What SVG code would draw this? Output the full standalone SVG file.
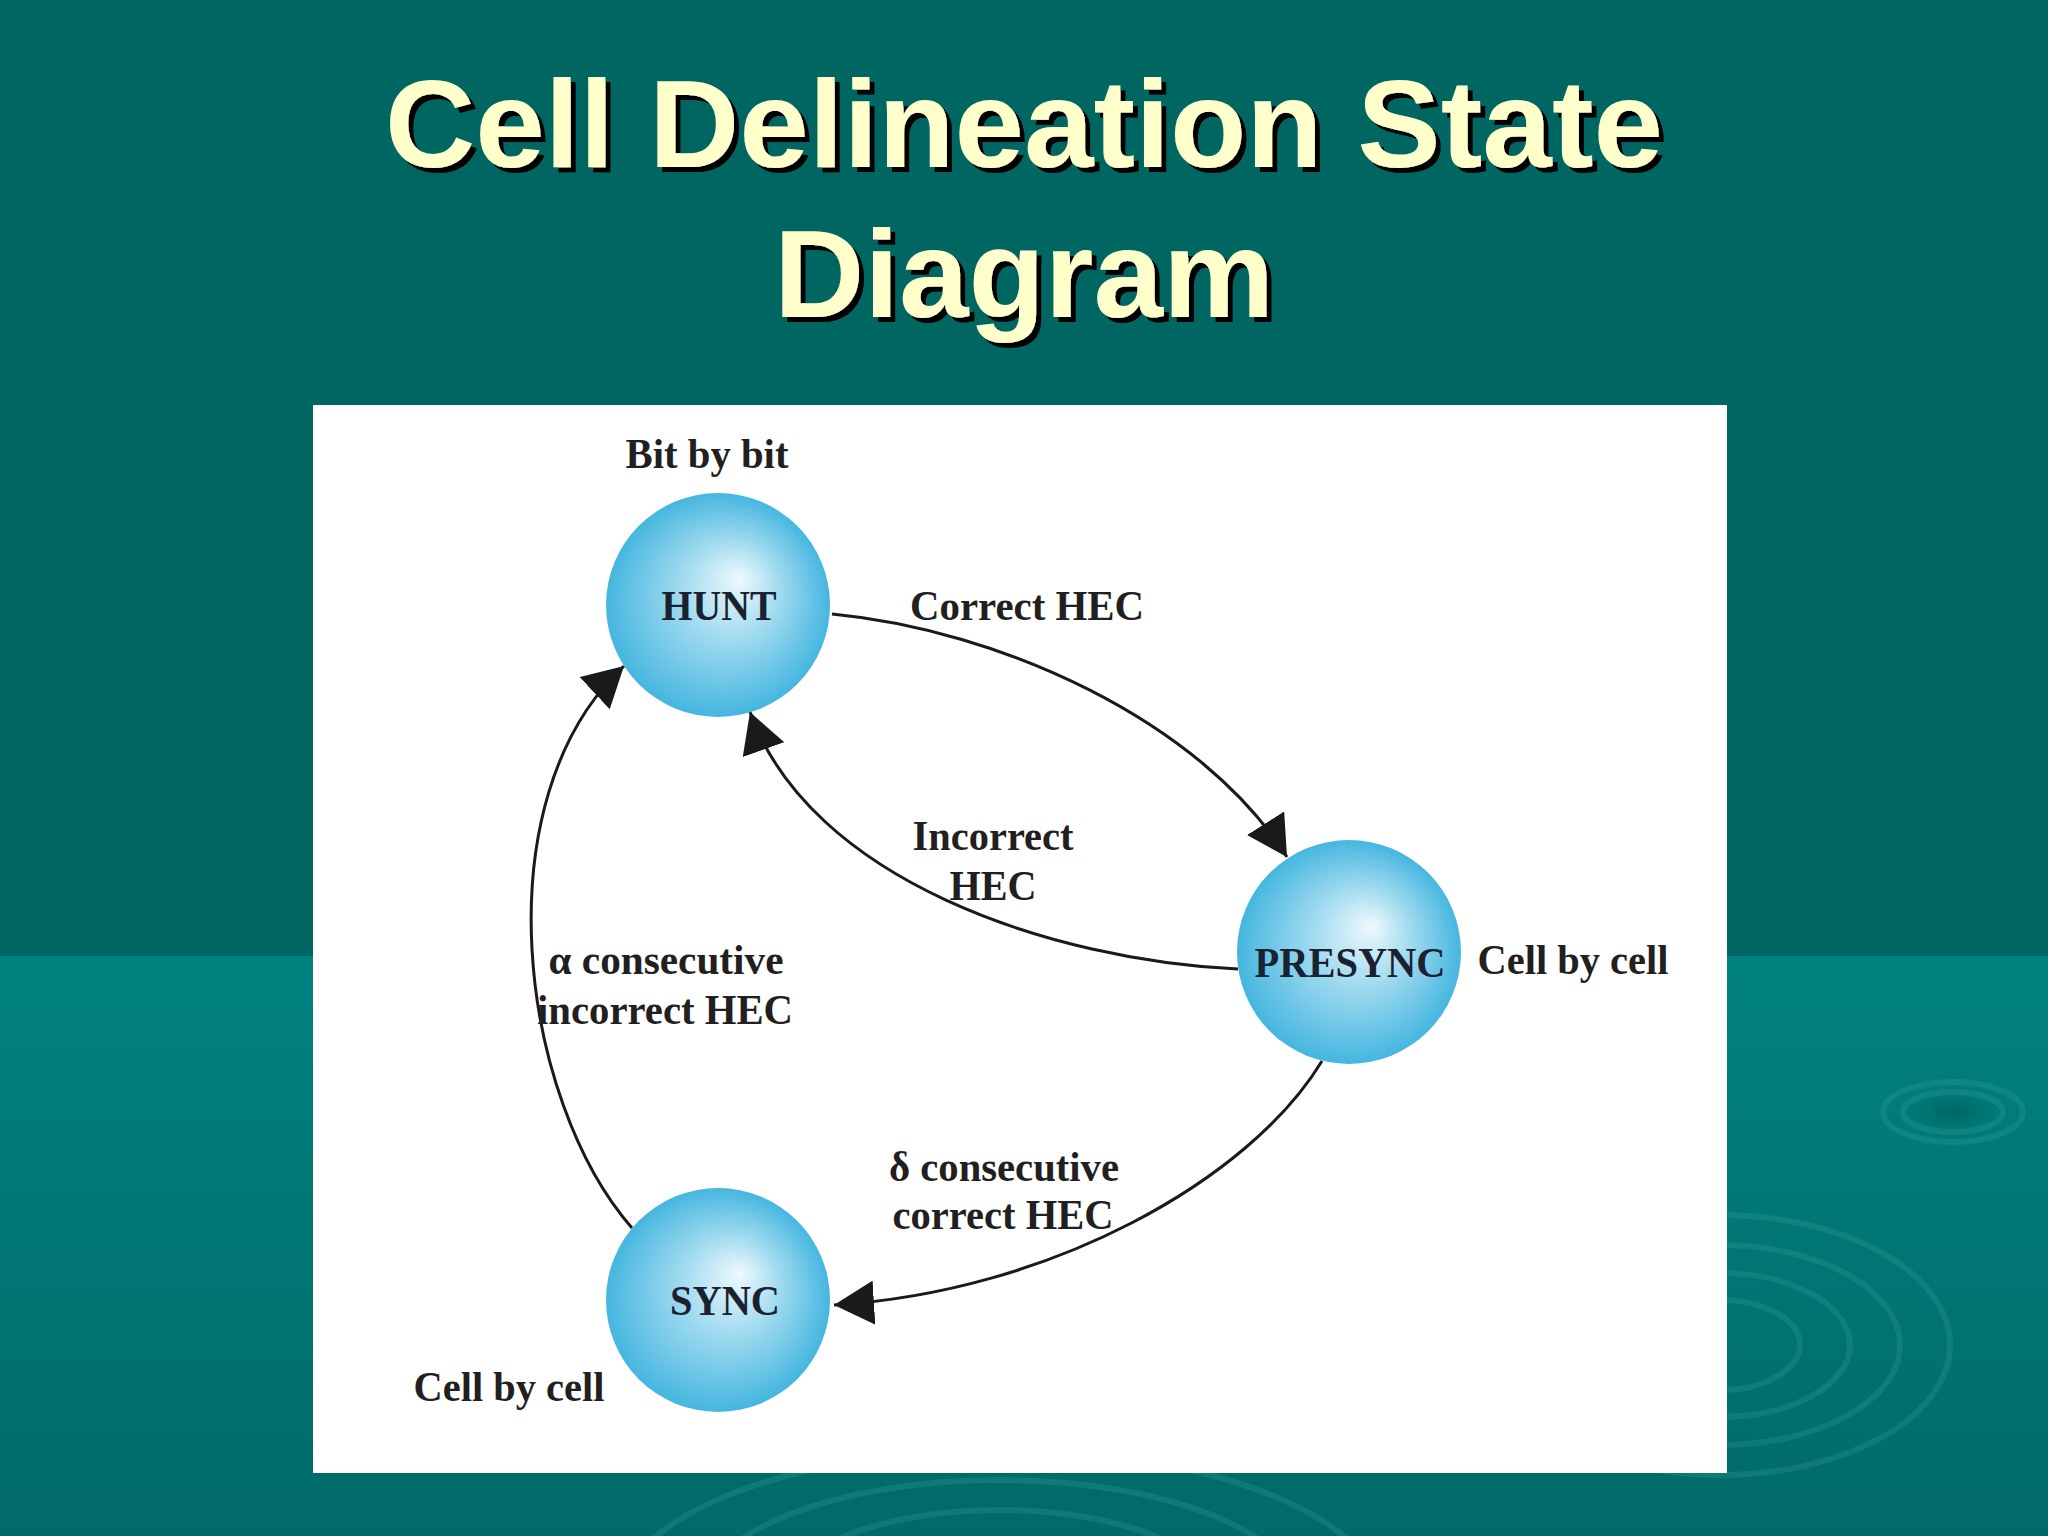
<svg xmlns="http://www.w3.org/2000/svg" width="2048" height="1536" viewBox="0 0 2048 1536">
<defs>
<style>
.title{font-family:"Liberation Sans",Arial,sans-serif;font-weight:bold;font-size:125px;text-anchor:middle;fill:#ffffcc;filter:url(#shadow)}
.lbl{font-family:"Liberation Serif","Times New Roman",serif;font-weight:bold;font-size:42px;fill:#231f20;text-anchor:middle}
.nlbl{font-family:"Liberation Serif","Times New Roman",serif;font-weight:bold;font-size:42px;fill:#1a2130;text-anchor:middle}
.edge{fill:none;stroke:#1a1a1a;stroke-width:3;marker-end:url(#arr)}
.ripple{fill:none;stroke:#3aa3a0;stroke-opacity:0.25;stroke-width:6}
.node{fill:url(#ball)}
</style>
<filter id="shadow" x="-5%" y="-10%" width="110%" height="130%">
<feOffset in="SourceAlpha" dx="5" dy="5" result="off"/>
<feFlood flood-color="#000000"/>
<feComposite in2="off" operator="in" result="sh"/>
<feMerge><feMergeNode in="sh"/><feMergeNode in="SourceGraphic"/></feMerge>
</filter>
<linearGradient id="band" x1="0" y1="0" x2="0" y2="1">
<stop offset="0" stop-color="#008280"/>
<stop offset="1" stop-color="#006a68"/>
</linearGradient>
<radialGradient id="ball" cx="0.5" cy="0.5" r="0.5" fx="0.6" fy="0.38">
<stop offset="0" stop-color="#eef9fd"/>
<stop offset="0.45" stop-color="#9fdaef"/>
<stop offset="1" stop-color="#45b6e0"/>
</radialGradient>
<radialGradient id="dimple" cx="0.5" cy="0.5" r="0.5">
<stop offset="0" stop-color="#005f5d" stop-opacity="0.8"/>
<stop offset="1" stop-color="#006f6d" stop-opacity="0"/>
</radialGradient>
<marker id="arr" markerUnits="userSpaceOnUse" markerWidth="40" markerHeight="44" viewBox="0 0 40 44" refX="40" refY="22" orient="auto">
<path d="M0,0 L40,22 L0,44 z" fill="#1a1a1a"/>
</marker>
</defs>
<rect x="0" y="0" width="2048" height="956" fill="#006661"/>
<rect x="0" y="956" width="2048" height="580" fill="url(#band)"/>
<g id="ripples">
<ellipse class="ripple" cx="1720" cy="1345" rx="230" ry="130"/>
<ellipse class="ripple" cx="1720" cy="1345" rx="180" ry="100"/>
<ellipse class="ripple" cx="1720" cy="1345" rx="130" ry="72"/>
<ellipse class="ripple" cx="1720" cy="1345" rx="80" ry="45"/>
<ellipse cx="1953" cy="1112" rx="55" ry="24" fill="url(#dimple)"/>
<ellipse class="ripple" cx="1953" cy="1112" rx="70" ry="30" stroke-width="4"/>
<ellipse class="ripple" cx="1953" cy="1112" rx="50" ry="20" stroke-width="4"/>
<ellipse class="ripple" cx="1000" cy="1600" rx="380" ry="150"/>
<ellipse class="ripple" cx="1000" cy="1600" rx="300" ry="120"/>
<ellipse class="ripple" cx="1000" cy="1600" rx="220" ry="90"/>
</g>
<g id="title">
<text class="title" x="1024" y="167">Cell Delineation State</text>
<text class="title" x="1024" y="317">Diagram</text>
</g>
<rect id="panel" x="313" y="405" width="1414" height="1068" fill="#ffffff"/>
<g id="connectors">
<path class="edge" d="M832,614 C1000,630 1200,720 1287,857"/>
<path class="edge" d="M1238,969 C1050,960 810,880 750,712"/>
<path class="edge" d="M632,1228 C520,1100 480,800 624,666"/>
<path class="edge" d="M1322,1061 C1250,1180 1050,1292 834,1305"/>
<text class="lbl" x="1027" y="620" textLength="234" lengthAdjust="spacingAndGlyphs">Correct HEC</text>
<text class="lbl" x="993" y="850" textLength="161" lengthAdjust="spacingAndGlyphs">Incorrect</text>
<text class="lbl" x="993" y="900" textLength="87" lengthAdjust="spacingAndGlyphs">HEC</text>
<text class="lbl" x="666" y="974" textLength="235" lengthAdjust="spacingAndGlyphs">α consecutive</text>
<text class="lbl" x="665" y="1024" textLength="256" lengthAdjust="spacingAndGlyphs">incorrect HEC</text>
<text class="lbl" x="1004" y="1181" textLength="230" lengthAdjust="spacingAndGlyphs">δ consecutive</text>
<text class="lbl" x="1003" y="1229" textLength="221" lengthAdjust="spacingAndGlyphs">correct HEC</text>
</g>
<g id="hunt">
<circle class="node" cx="718" cy="605" r="112"/>
<text class="nlbl" x="719" y="620" textLength="115" lengthAdjust="spacingAndGlyphs">HUNT</text>
<text class="lbl" x="707" y="468" textLength="163" lengthAdjust="spacingAndGlyphs">Bit by bit</text>
</g>
<g id="presync">
<circle class="node" cx="1349" cy="952" r="112"/>
<text class="nlbl" x="1350" y="977" textLength="191" lengthAdjust="spacingAndGlyphs">PRESYNC</text>
<text class="lbl" x="1573" y="974" textLength="191" lengthAdjust="spacingAndGlyphs">Cell by cell</text>
</g>
<g id="sync">
<circle class="node" cx="718" cy="1300" r="112"/>
<text class="nlbl" x="725" y="1315" textLength="110" lengthAdjust="spacingAndGlyphs">SYNC</text>
<text class="lbl" x="509" y="1401" textLength="191" lengthAdjust="spacingAndGlyphs">Cell by cell</text>
</g>
</svg>
